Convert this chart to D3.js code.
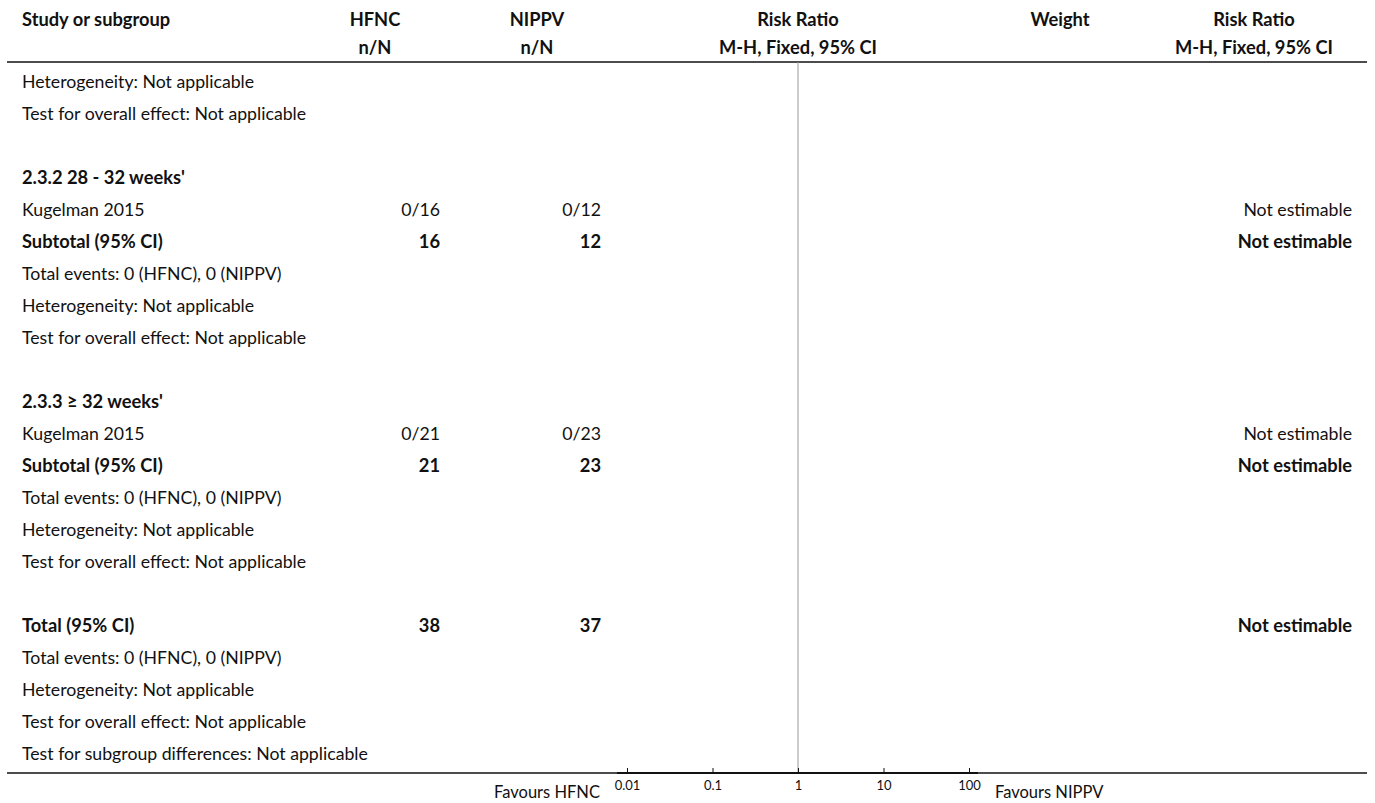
<!DOCTYPE html>
<html>
<head>
<meta charset="utf-8">
<script src="https://cdn.jsdelivr.net/npm/d3@7"></script>
<style>
  html, body { margin: 0; padding: 0; background: #fff; }
  svg { display: block; }
  text { font-family: Lato, "Noto Sans", sans-serif; fill: #111; }
</style>
</head>
<body>
<svg id="chart" width="1375" height="803"></svg>
<script>
// Forest plot: HFNC vs NIPPV, subgroup analysis by gestational age
const headerTop = ["Study or subgroup", "HFNC", "NIPPV", "Risk Ratio", "Weight", "Risk Ratio"];
const headerSub = ["", "n/N", "n/N", "M-H, Fixed, 95% CI", "", "M-H, Fixed, 95% CI"];

const rowLabels = [
  "Heterogeneity: Not applicable",
  "Test for overall effect: Not applicable",
  "",
  "2.3.2 28 - 32 weeks'",
  "Kugelman 2015",
  "Subtotal (95% CI)",
  "Total events: 0 (HFNC), 0 (NIPPV)",
  "Heterogeneity: Not applicable",
  "Test for overall effect: Not applicable",
  "",
  "2.3.3 \u2265 32 weeks'",
  "Kugelman 2015",
  "Subtotal (95% CI)",
  "Total events: 0 (HFNC), 0 (NIPPV)",
  "Heterogeneity: Not applicable",
  "Test for overall effect: Not applicable",
  "",
  "Total (95% CI)",
  "Total events: 0 (HFNC), 0 (NIPPV)",
  "Heterogeneity: Not applicable",
  "Test for overall effect: Not applicable",
  "Test for subgroup differences: Not applicable"
];
const rowBold = [0,0,0,1,0,1,0,0,0,0,1,0,1,0,0,0,0,1,0,0,0,0];
const hfncValues  = ["","","","","0/16","16","","","","","","0/21","21","","","","","38","","","",""];
const nippvValues = ["","","","","0/12","12","","","","","","0/23","23","","","","","37","","","",""];
const rrValues    = ["","","","","Not estimable","Not estimable","","","","","","Not estimable","Not estimable","","","","","Not estimable","","","",""];

const axisTicks = [0.01, 0.1, 1, 10, 100];
const favoursLeft = "Favours HFNC";
const favoursRight = "Favours NIPPV";

const svg = d3.select("#chart");

const y = d3.scalePoint().domain(d3.range(rowLabels.length)).range([82, 82 + 32 * (rowLabels.length - 1)]);
const x = d3.scaleLog().domain([0.01, 100]).range([627, 969]);

const fsReg = 17.7;
const fsBold = 18.3;

// header
const headerX = [22, 375, 537, 798, 1060, 1254];
const headerAnchor = ["start", "middle", "middle", "middle", "middle", "middle"];
const hdr = svg.append("g").attr("font-size", fsBold).attr("font-weight", "bold");
headerTop.forEach((t, i) => {
  hdr.append("text").attr("x", headerX[i]).attr("y", 20).attr("dy", "0.35em")
    .attr("text-anchor", headerAnchor[i]).text(t);
});
headerSub.forEach((t, i) => {
  if (!t) return;
  hdr.append("text").attr("x", headerX[i]).attr("y", 48).attr("dy", "0.35em")
    .attr("text-anchor", headerAnchor[i]).text(t);
});

svg.append("line").attr("x1", 7).attr("x2", 1367).attr("y1", 62).attr("y2", 62)
  .attr("stroke", "#111").attr("stroke-width", 1.5);

// line of no effect
svg.append("line").attr("x1", x(1)).attr("x2", x(1)).attr("y1", 62).attr("y2", 773)
  .attr("stroke", "#999").attr("stroke-width", 1);

// rows
const rows = svg.append("g");
const idx = d3.range(rowLabels.length);
const addCol = (vals, xPos, anchor) => {
  rows.selectAll(null).data(idx.filter(i => vals[i] !== "")).join("text")
    .attr("x", xPos).attr("y", i => y(i)).attr("dy", "0.35em")
    .attr("text-anchor", anchor)
    .attr("font-size", i => rowBold[i] ? fsBold : fsReg)
    .attr("font-weight", i => rowBold[i] ? "bold" : "normal")
    .text(i => vals[i]);
};
addCol(rowLabels, 22, "start");
addCol(hfncValues, 440, "end");
addCol(nippvValues, 601, "end");
addCol(rrValues, 1352, "end");

// bottom rule and axis
svg.append("line").attr("x1", 7).attr("x2", 1367).attr("y1", 773).attr("y2", 773)
  .attr("stroke", "#111").attr("stroke-width", 1.5);
svg.append("line").attr("x1", 617).attr("x2", 978).attr("y1", 773).attr("y2", 773)
  .attr("stroke", "#111").attr("stroke-width", 2);

const axis = d3.axisBottom(x).tickValues(axisTicks).tickFormat(d => String(d))
  .tickSizeInner(-5).tickSizeOuter(0).tickPadding(8);
const ag = svg.append("g").attr("transform", "translate(0,773)").call(axis);
ag.select(".domain").remove();
ag.selectAll(".tick line").attr("stroke", "#111");
ag.selectAll(".tick text").attr("font-size", 13).attr("font-family", "Lato, sans-serif").attr("fill", "#111");

svg.append("text").attr("x", 600).attr("y", 792).attr("dy", "0.35em").attr("text-anchor", "end")
  .attr("font-size", 16.5).text(favoursLeft);
svg.append("text").attr("x", 995).attr("y", 792).attr("dy", "0.35em").attr("text-anchor", "start")
  .attr("font-size", 16.5).text(favoursRight);
</script>
</body>
</html>
